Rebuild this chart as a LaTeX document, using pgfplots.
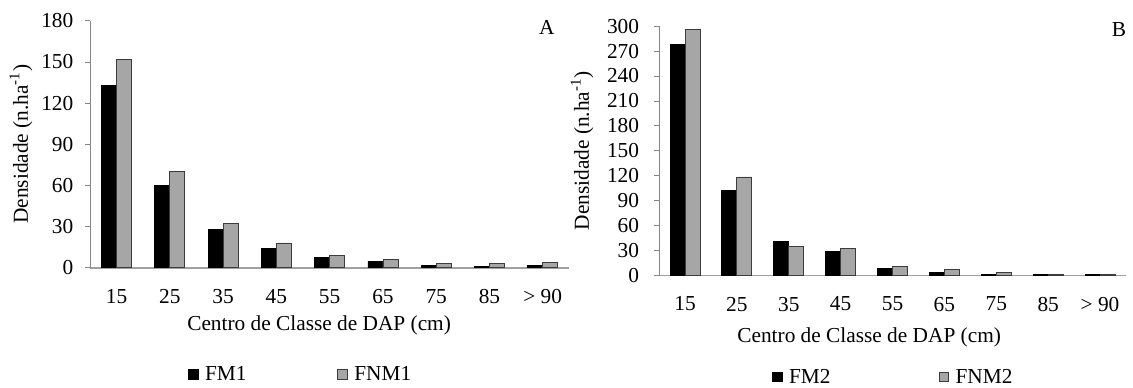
\documentclass[border=0pt]{standalone}
\usepackage{fontspec}
\setmainfont{Liberation Serif}
\usepackage{pgfplots}
\pgfplotsset{compat=1.18}
\definecolor{bargray}{RGB}{166,166,166}
\definecolor{edgegray}{RGB}{60,60,60}
\definecolor{xaxgray}{RGB}{160,160,160}
\definecolor{yaxgray}{RGB}{134,134,134}
\newcommand\ff{\fontsize{16}{19}\selectfont}
\pgfplotsset{
  mybar/.style={
    scale only axis, clip=false,
    ybar=0pt, bar width=11.25pt,
    xmin=-0.5, xmax=8.5, ymin=0,
    xtick={0,...,8},
    xticklabels={15,25,35,45,55,65,75,85,{> 90}},
    axis x line*=bottom, axis y line*=left,
    x axis line style={draw=xaxgray, line width=1.3pt, -},
    y axis line style={draw=yaxgray, line width=0.6pt, -},
    x tick style={draw=none},
    y tick style={draw=yaxgray, line width=0.6pt},
    tick align=outside, major tick length=3.5pt,
    /pgf/number format/assume math mode=true,
    tick label style={font=\ff},
    xticklabel style={yshift=-9pt},
    label style={font=\ff},
    legend image code/.code={\draw[#1, line width=0.6pt] (0pt,-3.6pt) rectangle (7.2pt,3.6pt);},
    legend style={draw=none, fill=none, inner sep=0pt, outer sep=0pt, legend columns=2, font=\ff,
      anchor=west, nodes={inner sep=0pt},
      /tikz/every odd column/.append style={column sep=5pt}},
    fm/.style={draw=black, fill=black, line width=0.6pt},
    fnm/.style={draw=edgegray, fill=bargray, line width=0.6pt},
  }
}
\begin{document}
\begin{tikzpicture}
\path[use as bounding box] (0,0) rectangle (849.75pt,290.25pt);
% Panel A
\begin{axis}[mybar,
  at={(67.5pt,89.5pt)}, anchor=south west,
  width=359.5pt, height=185.1pt,
  ymax=180, ytick={0,30,...,180},
  yticklabel style={xshift=-5.5pt},
  xlabel={Centro de Classe de DAP (cm)},
  xlabel style={at={(rel axis cs:0.478,-0.234)}, anchor=center},
  ylabel={Densidade (n.ha\textsuperscript{-1})},
  ylabel style={at={(rel axis cs:-0.144,0.5)}, anchor=center, rotate=0},
  legend style={at={(rel axis cs:0.2045,-0.432)},
    /tikz/every even column/.append style={column sep=68pt}},
]
\addplot[fm] coordinates {(0,132.7) (1,60) (2,27.7) (3,14) (4,7.3) (5,4.6) (6,1.7) (7,1.1) (8,1.9)};
\addplot[fnm] coordinates {(0,152) (1,70.5) (2,32) (3,18) (4,9.2) (5,5.8) (6,3.1) (7,3.1) (8,3.8)};
\legend{FM1,FNM1}
\node[font=\ff] at (rel axis cs:0.953,0.974) {A};
\end{axis}
% Panel B
\begin{axis}[mybar,
  at={(494.3pt,83.6pt)}, anchor=south west,
  width=350.2pt, height=187.1pt,
  ymax=300, ytick={0,30,...,300},
  yticklabel style={xshift=-8pt},
  xlabel={Centro de Classe de DAP (cm)},
  xlabel style={at={(rel axis cs:0.45,-0.246)}, anchor=center},
  ylabel={Densidade (n.ha\textsuperscript{-1})},
  ylabel style={at={(rel axis cs:-0.165,0.5)}, anchor=center, rotate=0},
  legend style={at={(rel axis cs:0.2418,-0.407)},
    /tikz/every even column/.append style={column sep=81pt}},
]
\addplot[fm] coordinates {(0,278) (1,102) (2,41) (3,29.5) (4,8) (5,4) (6,1.2) (7,1.2) (8,1.2)};
\addplot[fnm] coordinates {(0,295.5) (1,118.5) (2,35) (3,33) (4,10.5) (5,7) (6,3.6) (7,1.2) (8,1.2)};
\legend{FM2,FNM2}
\node[font=\ff] at (rel axis cs:0.985,0.985) {B};
\end{axis}
\end{tikzpicture}
\end{document}
